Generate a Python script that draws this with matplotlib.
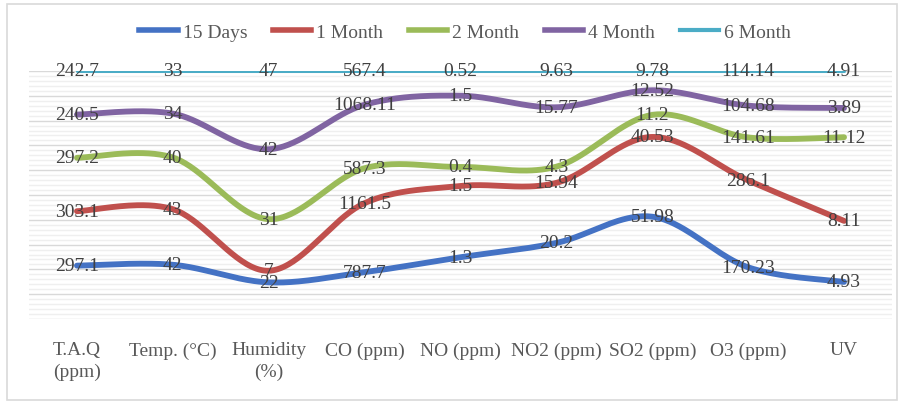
import numpy as np
import matplotlib
matplotlib.use("Agg")
import matplotlib.pyplot as plt
from matplotlib.patches import Rectangle
from matplotlib.lines import Line2D

categories = ["T.A.Q\n(ppm)", "Temp. (°C)", "Humidity\n(%)", "CO (ppm)", "NO (ppm)",
              "NO2 (ppm)", "SO2 (ppm)", "O3 (ppm)", "UV"]
series_names = ["15 Days", "1 Month", "2 Month", "4 Month", "6 Month"]
days15 = [297.1, 42, 22, 787.7, 1.3, 20.2, 51.98, 170.23, 4.93]
month1 = [303.1, 43, 7, 1161.5, 1.5, 15.94, 40.53, 286.1, 8.11]
month2 = [297.2, 40, 31, 587.3, 0.4, 4.3, 11.2, 141.61, 11.12]
month4 = [240.5, 34, 42, 1068.11, 1.5, 15.77, 12.52, 104.68, 3.89]
month6 = [242.7, 33, 47, 567.4, 0.52, 9.63, 9.78, 114.14, 4.91]
label_text = [
    ["297.1", "42", "22", "787.7", "1.3", "20.2", "51.98", "170.23", "4.93"],
    ["303.1", "43", "7", "1161.5", "1.5", "15.94", "40.53", "286.1", "8.11"],
    ["297.2", "40", "31", "587.3", "0.4", "4.3", "11.2", "141.61", "11.12"],
    ["240.5", "34", "42", "1068.11", "1.5", "15.77", "12.52", "104.68", "3.89"],
    ["242.7", "33", "47", "567.4", "0.52", "9.63", "9.78", "114.14", "4.91"],
]

colors = ["#4472C4", "#C0504D", "#9BBB59", "#8064A2", "#4BACC6"]
widths = [4.2, 4.2, 4.2, 4.2, 2.2]

data = np.array([days15, month1, month2, month4, month6], dtype=float)
totals = data.sum(axis=0)
cum = np.cumsum(data, axis=0) / totals * 100.0


def smooth(xs, ys, n=40):
    P = np.column_stack([xs, ys])
    Pext = np.vstack([P[0], P, P[-1]])
    out = []
    t = np.linspace(0, 1, n)
    for i in range(len(P) - 1):
        p0 = Pext[i + 1]
        p3 = Pext[i + 2]
        c1 = p0 + (Pext[i + 2] - Pext[i]) / 6.0
        c2 = p3 - (Pext[i + 3] - Pext[i + 1]) / 6.0
        seg = ((1 - t) ** 3)[:, None] * p0 + (3 * (1 - t) ** 2 * t)[:, None] * c1 \
            + (3 * (1 - t) * t ** 2)[:, None] * c2 + (t ** 3)[:, None] * p3
        out.append(seg if i == 0 else seg[1:])
    S = np.vstack(out)
    return S[:, 0], S[:, 1]


plt.rcParams['font.family'] = ['Liberation Serif', 'DejaVu Serif']
fig = plt.figure(figsize=(9.01, 4.02), dpi=100)
fig.patches.append(Rectangle((7 / 901, 1 / 402), 890 / 901, 396 / 402, transform=fig.transFigure,
                             fill=False, edgecolor="#d9d9d9", linewidth=1.2))
ax = fig.add_axes([29 / 901, 82 / 402, 863 / 901, 248 / 402])
ax.set_xlim(-0.5, len(categories) - 0.5)
ax.set_ylim(0, 100)

for yv in np.arange(0, 101, 2):
    major = (yv % 10 == 0)
    ax.axhline(yv, color="#d9d9d9" if major else "#efefef", lw=1.0, zorder=0)

x = np.arange(len(categories))
for i in range(len(series_names)):
    sx, sy = smooth(x, cum[i])
    ax.plot(sx, sy, color=colors[i], lw=widths[i], solid_capstyle='round', zorder=2)
    for j in range(len(categories)):
        ax.text(x[j], cum[i, j], label_text[i][j], ha='center', va='center',
                fontsize=14, color="#404040", zorder=3)

ax.set_xticks(x)
ax.set_xticklabels(categories, fontsize=14, color="#595959", linespacing=1.3)
ax.tick_params(axis='x', length=0, pad=16)
ax.set_yticks([])
for s in ax.spines.values():
    s.set_visible(False)

handles = [Line2D([0], [0], color=colors[i], lw=4 if i < 4 else 3) for i in range(5)]
fig.legend(handles, series_names, loc='center', bbox_to_anchor=(465 / 901, 1 - 33 / 402),
           ncol=5, frameon=False, fontsize=14, handlelength=2.0, handletextpad=0.25,
           columnspacing=1.3, labelcolor="#595959")

fig.savefig("out.png", dpi=100)
